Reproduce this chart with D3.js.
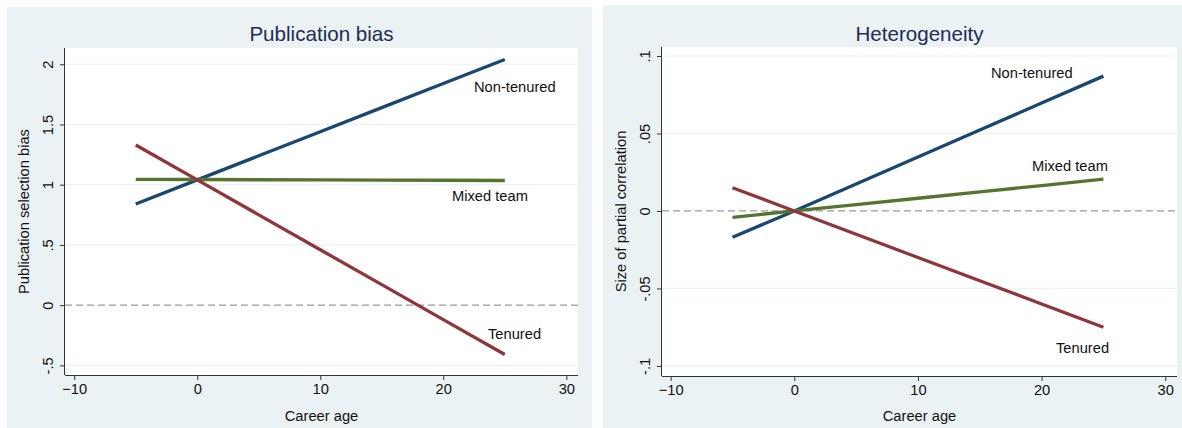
<!DOCTYPE html>
<html><head><meta charset="utf-8">
<script src="https://cdn.jsdelivr.net/npm/d3@7"></script>
<style>body{margin:0;background:#fff}svg{display:block;font-family:"Liberation Sans",Arial,sans-serif}</style>
</head><body><svg id="c" width="1182" height="428"></svg>
<script>
const careerAge = [-5, 0, 5, 10, 15, 20, 25];
const xTicks = [-10, 0, 10, 20, 30];

// Panel 1: Publication bias
const pbNonTenured = [0.84, 1.04, 1.24, 1.44, 1.64, 1.84, 2.04];
const pbMixedTeam  = [1.045, 1.043, 1.041, 1.040, 1.038, 1.037, 1.035];
const pbTenured    = [1.33, 1.04, 0.75, 0.46, 0.17, -0.12, -0.41];
const pbYTicks = [-0.5, 0, 0.5, 1, 1.5, 2];
const pbYTickLabels = ["-.5", "0", ".5", "1", "1.5", "2"];

// Panel 2: Heterogeneity
const hetNonTenured = [-0.017, 0, 0.0174, 0.0348, 0.0522, 0.0696, 0.087];
const hetMixedTeam  = [-0.0041, 0, 0.0041, 0.0082, 0.0123, 0.0164, 0.0205];
const hetTenured    = [0.015, 0, -0.015, -0.03, -0.045, -0.06, -0.075];
const hetYTicks = [-0.1, -0.05, 0, 0.05, 0.1];
const hetYTickLabels = ["-.1", "-.05", "0", ".05", ".1"];

const seriesNames = ["Non-tenured", "Mixed team", "Tenured"];
const colors = ["#1a476f", "#55752f", "#90353b"];

const svg = d3.select("#c");
const FS = 14.7;

const panels = [
  {title: "Publication bias", ytitle: "Publication selection bias",
   bg: [7, 7, 585, 421], plot: [65, 48, 578, 375],
   xd: [-10.75, 30.95], yd: [-0.58, 2.135],
   series: [pbNonTenured, pbMixedTeam, pbTenured],
   yTicks: pbYTicks, yLabels: pbYTickLabels,
   labels: [[474, 92], [452, 201], [488, 339]]},
  {title: "Heterogeneity", ytitle: "Size of partial correlation",
   bg: [603, 5, 579, 423], plot: [662, 47, 1177, 376],
   xd: [-10.7, 30.95], yd: [-0.1065, 0.1058],
   series: [hetNonTenured, hetMixedTeam, hetTenured],
   yTicks: hetYTicks, yLabels: hetYTickLabels,
   labels: [[991, 78], [1032, 171], [1056, 353]]}
];

panels.forEach(p => {
  const [L, T, R, B] = p.plot;
  svg.append("rect").attr("x", p.bg[0]).attr("y", p.bg[1]).attr("width", p.bg[2]).attr("height", p.bg[3]).attr("fill", "#eaf2f3");
  svg.append("rect").attr("x", L).attr("y", T).attr("width", R - L).attr("height", B - T).attr("fill", "#ffffff");
  const x = d3.scaleLinear().domain(p.xd).range([L, R]);
  const y = d3.scaleLinear().domain(p.yd).range([B, T]);

  // gridlines
  svg.append("g").selectAll("line").data(p.yTicks.filter(v => v !== 0)).join("line")
    .attr("x1", L).attr("x2", R).attr("y1", d => y(d)).attr("y2", d => y(d))
    .attr("stroke", "#eaf2f3").attr("stroke-width", 1.2);
  // zero dashed line
  svg.append("line").attr("x1", L).attr("x2", R).attr("y1", y(0)).attr("y2", y(0))
    .attr("stroke", "#999999").attr("stroke-width", 1.3).attr("stroke-dasharray", "7,4");

  // axes
  const xAxis = d3.axisBottom(x).tickValues(xTicks).tickSize(5).tickPadding(4).tickFormat(d3.format("d"));
  const gx = svg.append("g").attr("transform", `translate(0,${B})`).call(xAxis);
  gx.select(".domain").attr("stroke", "#333").attr("d", `M${L},0.5H${R}`);
  gx.selectAll(".tick line").attr("stroke", "#333");
  gx.selectAll("text").attr("font-size", FS).attr("fill", "#111").attr("font-family", "Liberation Sans, Arial, sans-serif");

  const yAxis = d3.axisLeft(y).tickValues(p.yTicks).tickSize(5).tickFormat((d, i) => p.yLabels[i]);
  const gy = svg.append("g").attr("transform", `translate(${L},0)`).call(yAxis);
  gy.select(".domain").attr("stroke", "#333").attr("d", `M-0.5,${T}V${B}`);
  gy.selectAll(".tick line").attr("stroke", "#333");
  gy.selectAll("text").attr("font-size", FS).attr("fill", "#111").attr("font-family", "Liberation Sans, Arial, sans-serif")
    .attr("x", null).attr("dy", null).attr("text-anchor", "middle")
    .attr("transform", "translate(-17.5,0) rotate(-90)").attr("dominant-baseline", "central");

  // lines
  const line = d3.line().x((d, i) => x(careerAge[i])).y(d => y(d));
  p.series.forEach((s, k) => {
    svg.append("path").datum(s).attr("d", line).attr("fill", "none")
      .attr("stroke", colors[k]).attr("stroke-width", 3.3).attr("stroke-linecap", "butt");
  });
  // series labels
  p.labels.forEach((l, k) => {
    svg.append("text").attr("x", l[0]).attr("y", l[1]).attr("text-anchor", "start")
      .attr("font-size", FS).attr("fill", "#111").text(seriesNames[k]);
  });

  // title
  svg.append("text").attr("x", (L + R) / 2).attr("y", 41).attr("text-anchor", "middle")
    .attr("font-size", 20.6).attr("fill", "#1e2d53").text(p.title);
  // x title
  svg.append("text").attr("x", (L + R) / 2).attr("y", 421).attr("text-anchor", "middle")
    .attr("font-size", FS).attr("fill", "#111").text("Career age");
  // y title
  svg.append("text").attr("transform", `translate(${L - 36},${(T + B) / 2}) rotate(-90)`)
    .attr("text-anchor", "middle").attr("font-size", FS).attr("fill", "#111").text(p.ytitle);
});
</script></body></html>
